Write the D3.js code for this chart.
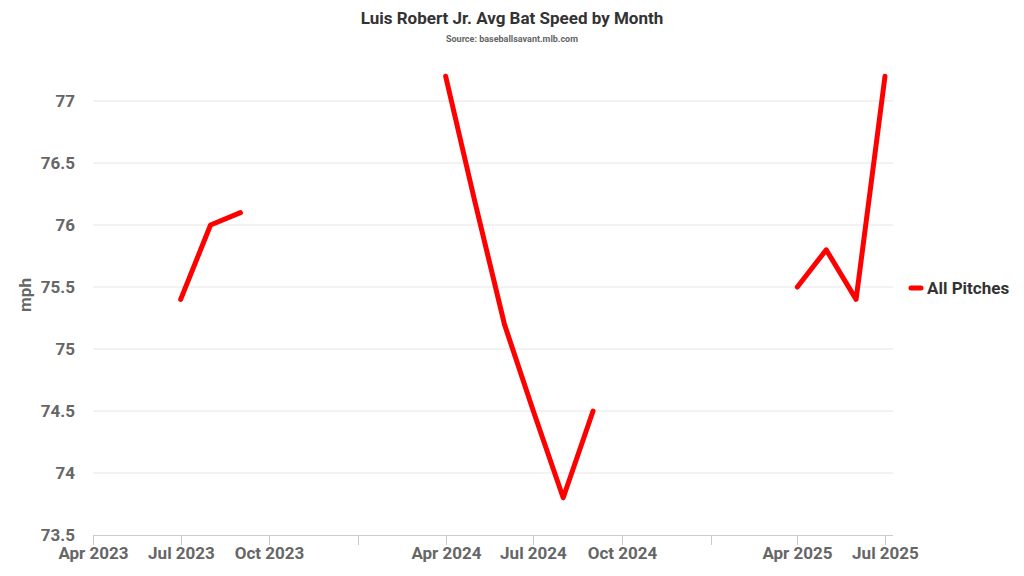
<!DOCTYPE html>
<html><head><meta charset="utf-8">
<script src="https://cdn.jsdelivr.net/npm/d3@7"></script>
<style>body{margin:0;background:#fff}text{font-family:"Liberation Sans Narrow","Roboto",sans-serif}</style>
</head><body><svg id="c" width="1024" height="576"></svg>
<script>
const months = ["2023-07","2023-08","2023-09","2023-10","2023-11","2023-12","2024-01","2024-02","2024-03",
"2024-04","2024-05","2024-06","2024-07","2024-08","2024-09","2024-10","2024-11","2024-12","2025-01","2025-02","2025-03",
"2025-04","2025-05","2025-06","2025-07"];
const values = [75.4,76.0,76.1,null,null,null,null,null,null,
77.2,76.2,75.2,74.5,73.8,74.5,null,null,null,null,null,null,
75.5,75.8,75.4,77.2];
const yTicks = [73.5,74,74.5,75,75.5,76,76.5,77];
const seriesName = "All Pitches";

const svg = d3.select("#c");
const parse = d3.timeParse("%Y-%m");
const data = months.map((m,i)=>({d:parse(m),v:values[i]}));
const x = d3.scaleTime().domain([parse("2023-04"),parse("2025-07")]).range([93,885]);
const y = d3.scaleLinear().domain([73.5,77]).range([535,101]);
const xl=93,xr=893;

svg.append("text").attr("x",512).attr("y",24).attr("text-anchor","middle").attr("font-size",17).attr("font-weight","bold").attr("fill","#333").text("Luis Robert Jr. Avg Bat Speed by Month");
svg.append("text").attr("x",512).attr("y",42).attr("text-anchor","middle").attr("font-size",9).attr("font-weight","bold").attr("fill","#666").text("Source: baseballsavant.mlb.com");

const g = svg.append("g");
yTicks.forEach(t=>{
  if(t>73.5) g.append("line").attr("x1",xl).attr("x2",xr).attr("y1",y(t)).attr("y2",y(t)).attr("stroke","#e6e6e6");
  g.append("text").attr("x",75).attr("y",y(t)+6).attr("text-anchor","end").attr("font-size",17).attr("font-weight","bold").attr("fill","#666").text(t);
});
g.append("line").attr("x1",xl).attr("x2",xr).attr("y1",535.5).attr("y2",535.5).attr("stroke","#ccc");
const fmt=d3.timeFormat("%b %Y");
x.ticks(d3.timeMonth.every(3)).forEach(t=>{
  const px=Math.round(x(t))+0.5;
  g.append("line").attr("x1",px).attr("x2",px).attr("y1",535).attr("y2",545).attr("stroke","#ccc");
  if(t.getMonth()!==0) g.append("text").attr("x",px).attr("y",559).attr("text-anchor","middle").attr("font-size",17).attr("font-weight","bold").attr("fill","#666").text(fmt(t));
});
svg.append("text").attr("transform","translate(31,295) rotate(-90)").attr("text-anchor","middle").attr("font-size",17).attr("font-weight","bold").attr("fill","#666").text("mph");

const line=d3.line().defined(d=>d.v!==null).x(d=>x(d.d)).y(d=>y(d.v));
svg.append("path").datum(data).attr("d",line).attr("fill","none").attr("stroke","#ff0000").attr("stroke-width",5).attr("stroke-linejoin","round").attr("stroke-linecap","round");

svg.append("line").attr("x1",911).attr("x2",921).attr("y1",288).attr("y2",288).attr("stroke","#ff0000").attr("stroke-width",5).attr("stroke-linecap","round");
svg.append("text").attr("x",927).attr("y",294).attr("font-size",17).attr("font-weight","bold").attr("fill","#333").text(seriesName);
</script></body></html>
